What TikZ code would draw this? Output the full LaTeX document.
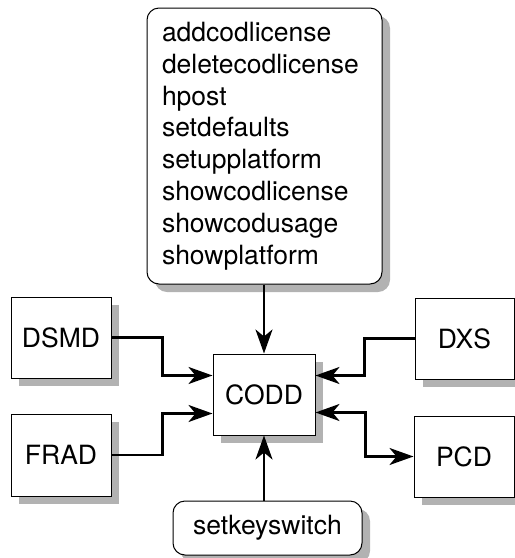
\documentclass[tikz,border=0pt]{standalone}
\usepackage{fontspec}
\setmainfont{TeX Gyre Heros}
\usetikzlibrary{shadows,arrows.meta,calc}
\tikzset{
  shadowed/.style={drop shadow={shadow xshift=8pt, shadow yshift=-8pt, fill=black!30, opacity=1}},
  box/.style={draw=black, line width=1pt, fill=white, shadowed, inner sep=0pt,
    font=\fontsize{26.5}{31.8}\selectfont},
  cmdbox/.style={box, rounded corners=12pt},
  tip/.tip={Stealth[length=24pt, width=17pt, inset=7pt]},
  arr/.style={line width=2.6pt, -tip},
  darr/.style={line width=2.6pt, tip-tip},
}
\begin{document}
\begin{tikzpicture}[x=1pt, y=-1pt]
\useasboundingbox (0,0) rectangle (515,558);
\node[cmdbox, minimum width=235pt, minimum height=276pt, align=left, text width=205pt] (cmds) at (264.5,146)
  {addcodlicense\\deletecodlicense\\hpost\\setdefaults\\setupplatform\\showcodlicense\\showcodusage\\showplatform};
\node[box, minimum width=100pt, minimum height=81pt] (dsmd) at (61,337.5) {DSMD};
\node[box, minimum width=100pt, minimum height=82pt] (frad) at (61,455) {FRAD};
\node[box, minimum width=102pt, minimum height=81pt] (codd) at (264,394.5) {CODD};
\node[box, minimum width=99pt, minimum height=81pt] (dxs) at (464.5,338.5) {DXS};
\node[box, minimum width=100pt, minimum height=81pt] (pcd) at (464,456.5) {PCD};
\node[cmdbox, minimum width=189pt, minimum height=54pt] (skey) at (267.5,528) {setkeyswitch};
\draw[arr] (cmds.south -| codd.north) -- (codd.north);
\draw[arr] (skey.north -| codd.south) -- (codd.south);
\draw[arr] (dsmd.east) -- ++(51,0) |- ([yshift=19pt]codd.west);
\draw[arr] (frad.east) -- ++(51,0) |- ([yshift=-19pt]codd.west);
\draw[arr] (dxs.west) -- ++(-50,0) |- ([yshift=19pt]codd.east);
\draw[darr] ([yshift=-18pt]codd.east) -- ++(50,0) |- (pcd.west);
\end{tikzpicture}
\end{document}
